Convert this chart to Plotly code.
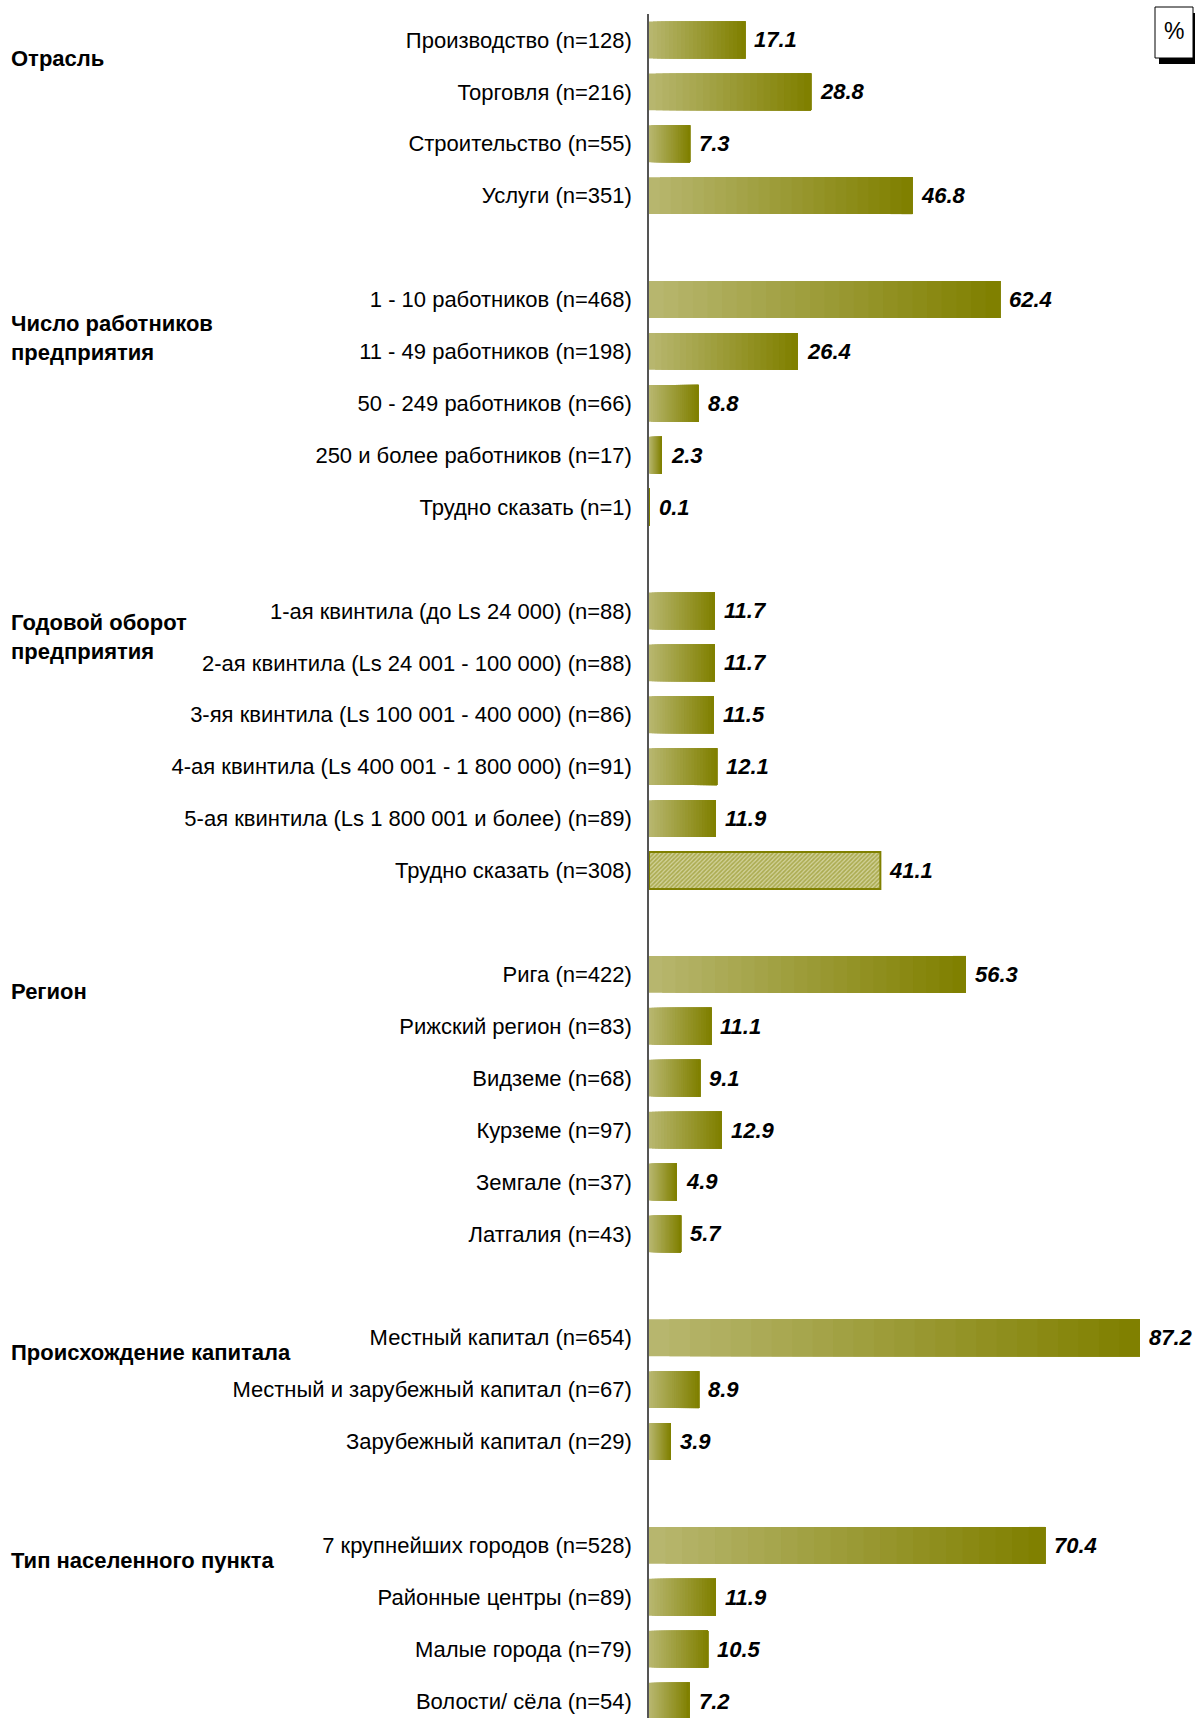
import plotly.graph_objects as go

# ---- data -------------------------------------------------------------
industry_labels = ["Производство (n=128)", "Торговля (n=216)",
                   "Строительство (n=55)", "Услуги (n=351)"]
industry_values = [17.1, 28.8, 7.3, 46.8]

staff_labels = ["1 - 10 работников (n=468)", "11 - 49 работников (n=198)",
                "50 - 249 работников (n=66)", "250 и более работников (n=17)",
                "Трудно сказать (n=1)"]
staff_values = [62.4, 26.4, 8.8, 2.3, 0.1]

turnover_labels = ["1-ая квинтила (до Ls 24 000) (n=88)",
                   "2-ая квинтила (Ls 24 001 - 100 000) (n=88)",
                   "3-яя квинтила (Ls 100 001 - 400 000) (n=86)",
                   "4-ая квинтила (Ls 400 001 - 1 800 000) (n=91)",
                   "5-ая квинтила (Ls 1 800 001 и более) (n=89)",
                   "Трудно сказать (n=308)"]
turnover_values = [11.7, 11.7, 11.5, 12.1, 11.9, 41.1]

region_labels = ["Рига (n=422)", "Рижский регион (n=83)", "Видземе (n=68)",
                 "Курземе (n=97)", "Земгале (n=37)", "Латгалия (n=43)"]
region_values = [56.3, 11.1, 9.1, 12.9, 4.9, 5.7]

capital_labels = ["Местный капитал (n=654)",
                  "Местный и зарубежный капитал (n=67)",
                  "Зарубежный капитал (n=29)"]
capital_values = [87.2, 8.9, 3.9]

place_labels = ["7 крупнейших городов (n=528)", "Районные центры (n=89)",
                "Малые города (n=79)", "Волости/ сёла (n=54)"]
place_values = [70.4, 11.9, 10.5, 7.2]

section_titles = ["Отрасль", "Число работников<br>предприятия",
                  "Годовой оборот<br>предприятия", "Регион",
                  "Происхождение капитала", "Тип населенного пункта"]

hatched_labels = ["Трудно сказать (n=308)"]

# ---- style ------------------------------------------------------------
FONT = "Arial, Liberation Sans, sans-serif"
LIGHT = (183, 182, 110)
DARK = (128, 128, 0)
OLIVE = "#808000"
N_STEPS = 24
X_MAX = 89.0
ROW_PX = 51.91
HEADER_NUDGE = [0.04, 0.15, -0.08, 0.02, -0.02, -0.02]

W, H = 1195, 1718
M_L, M_R, M_T, M_B = 649, 1195 - 1150, 14, 0
PLOT_W = W - M_L - M_R
PLOT_H = H - M_T - M_B


def px_x(px):
    return (px - M_L) / PLOT_W


def px_y(py):
    return 1 - (py - M_T) / PLOT_H


sections = [
    (industry_labels, industry_values),
    (staff_labels, staff_values),
    (turnover_labels, turnover_values),
    (region_labels, region_values),
    (capital_labels, capital_values),
    (place_labels, place_values),
]

categories, values, header_rows = [], [], []
for i, (labels, vals) in enumerate(sections):
    if i:
        categories.append(" " * i)  # blank spacer row between groups
        values.append(None)
    header_rows.append(len(categories))
    categories += labels
    values += vals

grad_vals = [None if (v is None or c in hatched_labels) else v
             for c, v in zip(categories, values)]
hatch_vals = [v if c in hatched_labels else None
              for c, v in zip(categories, values)]

fig = go.Figure()

# gradient bars: overlapping layers, each one starting a bit further right
for k in range(N_STEPS):
    t = k / (N_STEPS - 1)
    col = "rgb({},{},{})".format(*[round(a + (b - a) * t) for a, b in zip(LIGHT, DARK)])
    fig.add_trace(go.Bar(
        y=categories,
        x=[None if v is None else v * (N_STEPS - k) / N_STEPS for v in grad_vals],
        base=[None if v is None else v * k / N_STEPS for v in grad_vals],
        orientation="h", width=0.71,
        marker=dict(color=col, line=dict(width=0)),
        hoverinfo="skip", showlegend=False,
    ))

fig.add_trace(go.Bar(
    y=categories, x=hatch_vals, orientation="h", width=0.71,
    marker=dict(color="#CDCD8E", line=dict(color=OLIVE, width=2),
                pattern=dict(shape="/", fgcolor="#838305", bgcolor="#D2D29A",
                             size=3, solidity=0.55)),
    hoverinfo="skip", showlegend=False,
))

annotations = []
for c, v in zip(categories, values):
    if v is None:
        continue
    annotations.append(dict(
        x=v, y=c, xref="x", yref="y", text=f"<b><i>{v:.1f}</i></b>",
        showarrow=False, xanchor="left", xshift=7,
        font=dict(family=FONT, size=22, color="black"),
    ))

for title, r, dy in zip(section_titles, header_rows, HEADER_NUDGE):
    annotations.append(dict(
        x=px_x(9), xref="paper", y=r + 0.03 + dy, yref="y",
        text=f"<b>{title}</b>", showarrow=False, xanchor="left", yanchor="top",
        align="left", font=dict(family=FONT, size=22, color="black"),
    ))

annotations.append(dict(
    x=px_x(1174), y=px_y(31), xref="paper", yref="paper", text="%",
    showarrow=False, xanchor="center", yanchor="middle",
    font=dict(family=FONT, size=23, color="black"),
))

shapes = [
    dict(type="rect", xref="paper", yref="paper", x0=px_x(1159), x1=px_x(1200),
         y0=px_y(64), y1=px_y(13), fillcolor="black", line=dict(width=0)),
    dict(type="rect", xref="paper", yref="paper", x0=px_x(1155), x1=px_x(1193),
         y0=px_y(58), y1=px_y(7), fillcolor="white", line=dict(color="black", width=1)),
]

fig.update_layout(
    width=W, height=H,
    margin=dict(l=M_L, r=M_R, t=M_T, b=M_B, autoexpand=False),
    paper_bgcolor="white", plot_bgcolor="white",
    barmode="overlay", bargap=0.29,
    font=dict(family=FONT, size=22, color="black"),
    xaxis=dict(range=[0, X_MAX], visible=False, fixedrange=True),
    yaxis=dict(
        categoryorder="array", categoryarray=categories,
        range=[-0.5 + PLOT_H / ROW_PX, -0.5],
        showline=True, linecolor="#555555", linewidth=1.5,
        showgrid=False, zeroline=False, ticks="", ticklabelstandoff=11,
        tickfont=dict(family=FONT, size=22, color="black"),
    ),
    annotations=annotations,
    shapes=shapes,
)

# drop the default 8px page margin so the figure sits at the window origin
fig.write_html("out.html", config={"displayModeBar": False},
               post_script="document.body.style.margin='0';document.body.style.overflow='hidden';")
